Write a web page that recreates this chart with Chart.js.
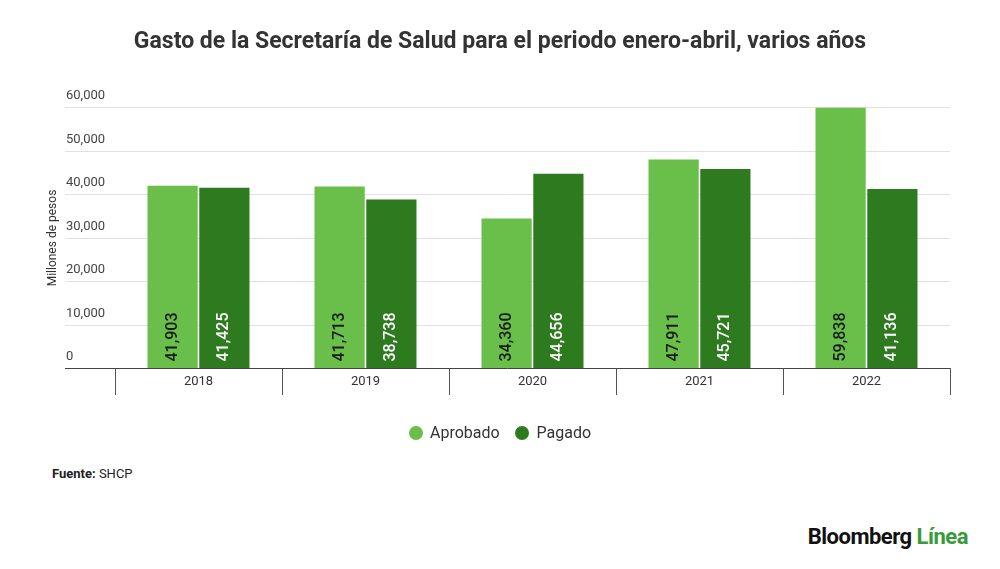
<!DOCTYPE html>
<html><head><meta charset="utf-8">
<script src="https://cdn.jsdelivr.net/npm/chart.js@4/dist/chart.umd.min.js"></script>
<style>
body{margin:0;background:#fff;font-family:Roboto,sans-serif;}
#wrap{position:absolute;left:0;top:0;width:1000px;height:460px;}
#title{position:absolute;left:0;width:1000px;top:27px;text-align:center;font-size:23px;font-weight:bold;color:#333;}
#legend{position:absolute;left:0;width:1000px;top:423px;text-align:center;font-size:16px;color:#333;}
#legend span.d{display:inline-block;width:14px;height:14px;border-radius:50%;vertical-align:-2px;margin-right:7px;}
#src{position:absolute;left:52px;top:466px;font-size:13px;color:#222;}
#brand{position:absolute;right:32px;top:524px;font-size:22px;font-weight:bold;color:#111;letter-spacing:-0.5px;}
</style></head><body>
<div id="wrap"><canvas id="c"></canvas></div>
<div id="title">Gasto de la Secretaría de Salud para el periodo enero-abril, varios años</div>
<div id="legend"><span class="d" style="background:#6abf4b"></span>Aprobado&nbsp;&nbsp;&nbsp;&nbsp;<span class="d" style="background:#2e7a1f"></span>Pagado</div>
<div id="src"><b>Fuente:</b> SHCP</div>
<div id="brand">Bloomberg <span style="color:#3a9a3a">Línea</span></div>
<script>
const categories=["2018","2019","2020","2021","2022"];
const aprobado=[41903,41713,34360,47911,59838];
const pagado=[41425,38738,44656,45721,41136];
const yTicks=[0,10000,20000,30000,40000,50000,60000];
const labelColors=['#1a1a1a','#ffffff'];
const fmt=v=>v.toLocaleString('en-US');
const extras={id:'extras',
 beforeDatasetsDraw(ch){const y=ch.scales.y,ctx=ch.ctx,a=ch.chartArea;ctx.save();
  ctx.strokeStyle='#e0e0e0';ctx.lineWidth=1;ctx.fillStyle='#444';ctx.font='13px Roboto';ctx.textBaseline='bottom';ctx.textAlign='left';
  yTicks.forEach(t=>{const py=Math.round(y.getPixelForValue(t))+0.5;
   if(t>0){ctx.beginPath();ctx.moveTo(65,py);ctx.lineTo(a.right,py);ctx.stroke();}
   ctx.fillText(fmt(t),66,py-5);});
  ctx.save();ctx.translate(53,238);ctx.rotate(-Math.PI/2);ctx.textAlign='center';ctx.textBaseline='middle';ctx.font='12px Roboto';ctx.fillStyle='#333';ctx.fillText('Millones de pesos',0,0);ctx.restore();
  const n=categories.length,w=(a.right-a.left)/n;
  ctx.strokeStyle='#555';ctx.fillStyle='#333';ctx.textAlign='center';ctx.textBaseline='middle';
  for(let i=0;i<=n;i++){const px=Math.round(a.left+i*w)+0.5;ctx.beginPath();ctx.moveTo(px,a.bottom);ctx.lineTo(px,a.bottom+27);ctx.stroke();}
  categories.forEach((c,i)=>ctx.fillText(c,ch.scales.x.getPixelForValue(i),a.bottom+14));
  ctx.restore();},
 afterDatasetsDraw(ch){const ctx=ch.ctx;ctx.save();
  ctx.strokeStyle='#444';ctx.lineWidth=1;const py=Math.round(ch.scales.y.getPixelForValue(0))+0.5;
  ctx.beginPath();ctx.moveTo(65,py);ctx.lineTo(ch.chartArea.right,py);ctx.stroke();
  ctx.font='500 16px Roboto';ctx.textAlign='left';ctx.textBaseline='middle';
  ch.data.datasets.forEach((ds,i)=>{ctx.fillStyle=labelColors[i];ch.getDatasetMeta(i).data.forEach((b,j)=>{
   ctx.save();ctx.translate(b.x,py-7);ctx.rotate(-Math.PI/2);ctx.fillText(fmt(ds.data[j]),0,0);ctx.restore();});});
  ctx.restore();}};
new Chart(document.getElementById('c'),{type:'bar',
 data:{labels:categories,datasets:[
  {label:'Aprobado',data:aprobado,backgroundColor:'#6abf4b'},
  {label:'Pagado',data:pagado,backgroundColor:'#2e7a1f'}]},
 options:{responsive:true,maintainAspectRatio:false,animation:false,
  categoryPercentage:0.62,barPercentage:0.97,
  layout:{padding:{left:115,right:50,top:107,bottom:92}},
  plugins:{legend:{display:false},tooltip:{enabled:false}},
  scales:{x:{display:false},
   y:{display:false,min:0,max:60000}}},
 plugins:[extras]});
</script></body></html>
